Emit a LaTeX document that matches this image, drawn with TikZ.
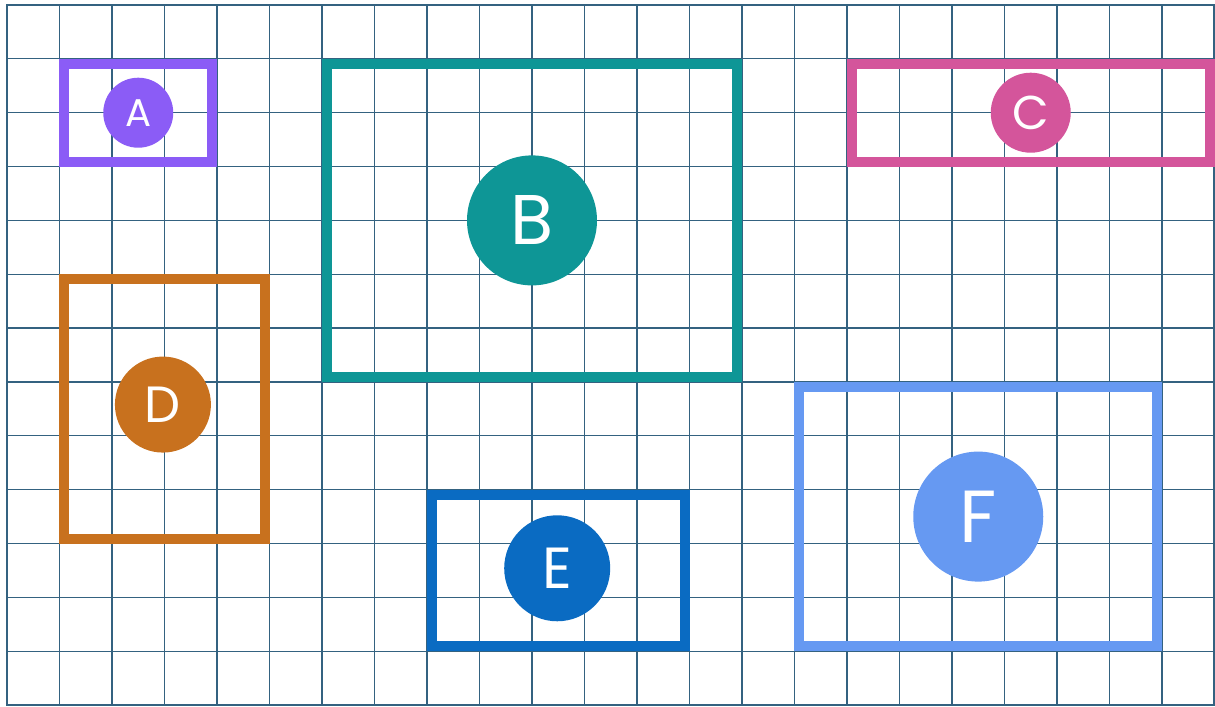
\documentclass[tikz,border=0pt]{standalone}
\usepackage{fontspec}
\setmainfont{Poppins}
\definecolor{gridline}{RGB}{52,98,128}
\definecolor{colA}{RGB}{139,92,246}
\definecolor{colB}{RGB}{14,150,150}
\definecolor{colC}{RGB}{212,85,155}
\definecolor{colD}{RGB}{200,113,30}
\definecolor{colE}{RGB}{10,107,194}
\definecolor{colF}{RGB}{102,153,242}
\begin{document}
\begin{tikzpicture}[x=1.05cm, y=-1.077cm, line join=miter,
    cell/.style={draw=gridline, line width=0.7pt},
    frame/.style={line width=0.2cm},
    badge/.style={circle, inner sep=0pt, text=white}]
  \useasboundingbox (-0.1333,-0.0929) rectangle (23.0095,13.0178);
  % squared paper
  \foreach \i in {0,...,23} \draw[cell] (\i,0) -- (\i,13);
  \foreach \j in {0,...,13} \draw[cell] (0,\j) -- (23,\j);
  \draw[gridline, line width=1.3pt] (0,0) rectangle (23,13);
  % framed regions
  \draw[frame, colA] (1.095,1.093) rectangle (3.905,2.907);
  \draw[frame, colB] (6.095,1.093) rectangle (13.905,6.907);
  \draw[frame, colC] (16.095,1.093) rectangle (22.905,2.907);
  \draw[frame, colD] (1.095,5.093) rectangle (4.905,9.907);
  \draw[frame, colE] (8.095,9.093) rectangle (12.905,11.907);
  \draw[frame, colF] (15.095,7.093) rectangle (21.905,11.907);
  % labels
  \node[badge, fill=colA, minimum size=1.4cm, font=\fontsize{22}{22}\selectfont] (a) at (2.5,2) {A};
  \node[badge, fill=colB, minimum size=2.6cm, font=\fontsize{40}{40}\selectfont] (b) at (10,4) {B};
  \node[badge, fill=colC, minimum size=1.6cm, font=\fontsize{27}{27}\selectfont] (c) at (19.5,2) {C};
  \node[badge, fill=colD, minimum size=1.92cm, font=\fontsize{29}{29}\selectfont] (d) at (2.97,7.42) {D};
  \node[badge, fill=colE, minimum size=2.12cm, font=\fontsize{33}{33}\selectfont] (e) at (10.48,10.46) {E};
  \node[badge, fill=colF, minimum size=2.6cm, font=\fontsize{42}{42}\selectfont] (f) at (18.5,9.5) {F};
\end{tikzpicture}
\end{document}
